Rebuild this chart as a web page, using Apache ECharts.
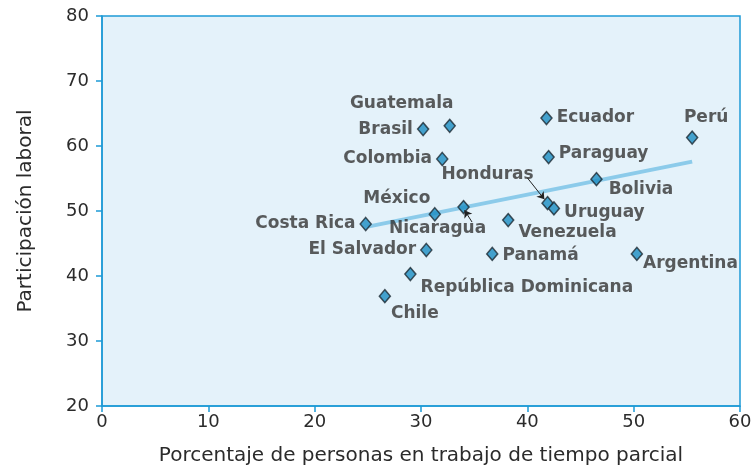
<!DOCTYPE html>
<html>
<head>
    <meta charset="UTF-8">
    <title>Participación laboral</title>
    <style type="text/css">
        *{ margin: 0; padding: 0; }
        #main{ width: 756px; height: 472px; }
    </style>
    <script src="https://cdn.jsdelivr.net/npm/echarts@6/dist/echarts.min.js"></script>
</head>
<body>
<div id="main"></div>
<script type="text/javascript">
    // datos
    var paises = ['Costa Rica','México','Nicaragua','Guatemala','Brasil','Colombia','El Salvador',
        'República Dominicana','Chile','Panamá','Venezuela','Honduras','Uruguay','Ecuador',
        'Paraguay','Bolivia','Argentina','Perú'];
    var tiempoParcial = [24.8, 31.3, 34.0, 32.7, 30.2, 32.0, 30.5, 29.0, 26.6, 36.7, 38.2, 41.9, 42.5, 41.8, 42.0, 46.5, 50.3, 55.5];
    var participacion = [48.0, 49.5, 50.6, 63.1, 62.6, 58.0, 44.0, 40.3, 36.9, 43.4, 48.6, 51.2, 50.4, 64.3, 58.3, 54.9, 43.4, 61.3];
    var tendenciaX = [25, 55.5];
    var tendenciaY = [47.6, 57.6];
    var xTicks = [0, 10, 20, 30, 40, 50, 60];
    var yTicks = [20, 30, 40, 50, 60, 70, 80];

    // donde va cada etiqueta
    var etiquetas = {
        'Costa Rica': ['left', [0, 0]],
        'México': ['top', [-38, 4]],
        'Nicaragua': ['bottom', [-26, 2]],
        'Guatemala': ['top', [-48, -2]],
        'Brasil': ['left', [0, 0]],
        'Colombia': ['left', [0, 0]],
        'El Salvador': ['left', [0, 0]],
        'República Dominicana': ['right', [0, 14]],
        'Chile': ['bottom', [30, -2]],
        'Panamá': ['right', [0, 2]],
        'Venezuela': ['right', [0, 12]],
        'Honduras': ['top', [-60, -9]],
        'Uruguay': ['right', [0, 4]],
        'Ecuador': ['right', [0, 0]],
        'Paraguay': ['right', [0, -3]],
        'Bolivia': ['right', [2, 10]],
        'Argentina': ['right', [-4, 10]],
        'Perú': ['top', [14, 0]]
    };

    var puntos = paises.map(function (p, i) {
        var e = etiquetas[p];
        return {
            name: p,
            value: [tiempoParcial[i], participacion[i]],
            label: { position: e[0], offset: e[1] }
        };
    });

    var azul = '#1e9ad6';
    var fuente = 'DejaVu Sans';

    var myChart = echarts.init(document.getElementById('main'));
    var option = {
        animation: false,
        grid: {
            left: 102, right: 16, top: 16, bottom: 66,
            show: true,
            backgroundColor: '#e4f2fa',
            borderColor: azul,
            borderWidth: 1.5
        },
        xAxis: {
            type: 'value',
            min: xTicks[0], max: xTicks[xTicks.length - 1], interval: 10,
            name: 'Porcentaje de personas en trabajo de tiempo parcial',
            nameLocation: 'middle',
            nameGap: 40,
            nameTextStyle: { fontFamily: fuente, fontSize: 20, color: '#2b2b2b' },
            axisLine: { lineStyle: { color: azul, width: 1.5 } },
            axisTick: { length: 6, lineStyle: { color: azul, width: 1.5 } },
            axisLabel: { fontFamily: fuente, fontSize: 18, color: '#2b2b2b', margin: 7 },
            splitLine: { show: false }
        },
        yAxis: {
            type: 'value',
            min: yTicks[0], max: yTicks[yTicks.length - 1], interval: 10,
            name: 'Participación laboral',
            nameLocation: 'middle',
            nameGap: 66,
            nameTextStyle: { fontFamily: fuente, fontSize: 20, color: '#2b2b2b' },
            axisLine: { lineStyle: { color: azul, width: 1.5 } },
            axisTick: { length: 6, lineStyle: { color: azul, width: 1.5 } },
            axisLabel: { fontFamily: fuente, fontSize: 18, color: '#2b2b2b', margin: 13 },
            splitLine: { show: false }
        },
        series: [
            {
                name: 'tendencia',
                type: 'line',
                data: tendenciaX.map(function (x, i) { return [x, tendenciaY[i]]; }),
                symbol: 'none',
                lineStyle: { color: '#8ccbea', width: 4 },
                z: 1
            },
            {
                name: 'paises',
                type: 'scatter',
                data: puntos,
                symbol: 'diamond',
                symbolSize: [11, 13],
                itemStyle: { color: '#1a8cc2', borderColor: '#1d2b33', borderWidth: 1.5 },
                label: {
                    show: true,
                    formatter: '{b}',
                    fontFamily: fuente,
                    fontWeight: 'bold',
                    fontSize: 17,
                    color: '#333',
                    distance: 4
                },
                markLine: {
                    silent: true,
                    symbol: ['none', 'arrow'],
                    symbolSize: 7,
                    label: { show: false },
                    lineStyle: { color: '#222', width: 1, type: 'solid' },
                    data: [
                        [{ coord: [40.0, 55.1] }, { coord: [41.6, 51.8] }],
                        [{ coord: [34.8, 48.3] }, { coord: [34.1, 50.1] }]
                    ]
                },
                z: 3
            }
        ]
    };
    myChart.setOption(option);
</script>
</body>
</html>
